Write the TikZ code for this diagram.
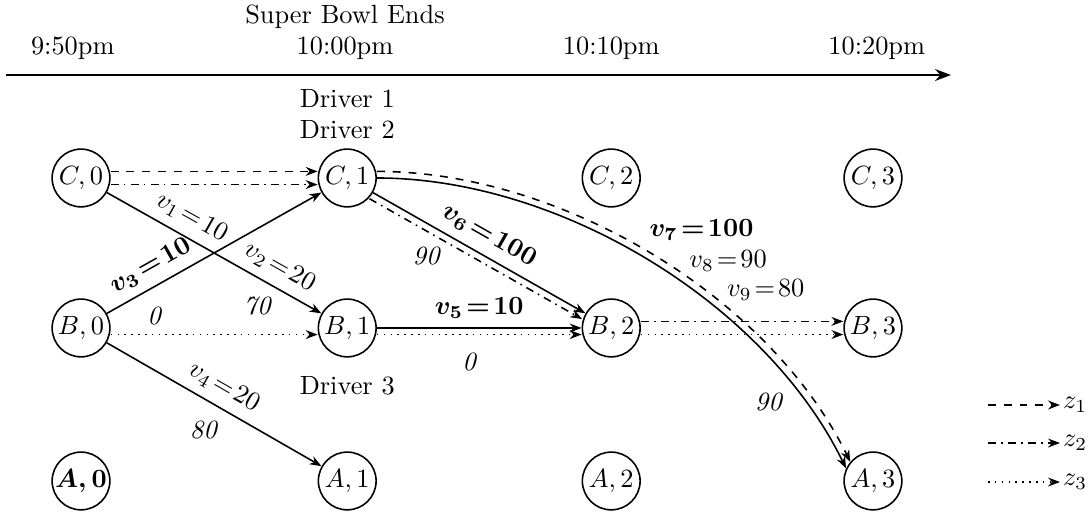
\documentclass[tikz,border=0pt]{standalone}
\usepackage{amsmath,amssymb}
\usetikzlibrary{positioning, arrows.meta}

\begin{document}
\begin{tikzpicture}[
  loc/.style={circle, draw, semithick, minimum size=0.77cm, inner sep=0pt},
  trip/.style={-{Stealth[length=4.5pt]}, semithick},
  sol1/.style={trip, dashed},
  sol2/.style={trip, dashdotted},
  sol3/.style={trip, dotted},
  num/.style={font=\itshape}
]
\useasboundingbox (0,0) rectangle (14.547,-6.92);

% Time axis
\coordinate (ax0) at (0.08,-1.0);
\coordinate (ax1) at (12.68,-1.0);
\draw[thick, -{Stealth[length=6pt]}] (ax0) -- (ax1);
\node (t0) at (0.97,-0.64) {9:50pm};
\node (t1) at (4.60,-0.64) {10:00pm};
\node (t2) at (8.15,-0.64) {10:10pm};
\node (t3) at (11.69,-0.64) {10:20pm};
\node[above=-4pt of t1] (sb) {Super Bowl Ends};

% Locations
\node[loc] (C0) at (1.08,-2.373) {$C,0$};
\node[loc] (C1) at (4.63,-2.373) {$C,1$};
\node[loc] (C2) at (8.15,-2.373) {$C,2$};
\node[loc] (C3) at (11.64,-2.373) {$C,3$};
\node[loc] (B0) at (1.08,-4.373) {$B,0$};
\node[loc] (B1) at (4.63,-4.373) {$B,1$};
\node[loc] (B2) at (8.15,-4.373) {$B,2$};
\node[loc] (B3) at (11.64,-4.373) {$B,3$};
\node[loc] (A0) at (1.08,-6.413) {$\boldsymbol{A,0}$};
\node[loc] (A1) at (4.63,-6.413) {$A,1$};
\node[loc] (A2) at (8.15,-6.413) {$A,2$};
\node[loc] (A3) at (11.64,-6.413) {$A,3$};

% Drivers
\node[above=0pt of C1, align=center] (d12) {Driver 1\\Driver 2};
\node[below=3.5pt of B1] (d3) {Driver 3};

% Trips
\draw[trip] (C0) -- node[pos=.35, sloped, above] {$v_1\!=\!10$}
                    node[pos=.76, sloped, above] {$v_2\!=\!20$}
                    node[num, pos=.7, below=4pt] {70} (B1);
\draw[trip] (B0) -- node[pos=.25, sloped, above] {$\boldsymbol{v_3\!=\!10}$}
                    node[num, pos=.22, below=4pt] {0} (C1);
\draw[trip] (B0) -- node[pos=.5, sloped, above] {$v_4\!=\!20$}
                    node[num, pos=.45, below=5pt] {80} (A1);
\draw[trip] (B1) -- node[pos=.5, above] {$\boldsymbol{v_5\!=\!10}$}
                    node[num, pos=.45, below=6pt] {0} (B2);
\draw[trip] (C1) -- node[pos=.5, sloped, above] {$\boldsymbol{v_6\!=\!100}$}
                    node[num, pos=.25, below=5.5pt] {90} (B2);
\draw[trip] (C1) to[out=0, in=116, looseness=.85]
                    node[pos=.48, above right, yshift=2pt] {$\boldsymbol{v_7\!=\!100}$}
                    node[pos=.56, above right] {$v_8\!=\!90$}
                    node[pos=.64, above right] {$v_9\!=\!80$}
                    node[num, pos=.82, below left] {90} (A3.155);

% Driver routes
\draw[sol1] ([yshift=2.5pt]C0.east) -- ([yshift=2.5pt]C1.west);
\draw[sol2] ([yshift=-2.5pt]C0.east) -- ([yshift=-2.5pt]C1.west);
\draw[sol3] ([yshift=-2.5pt]B0.east) -- ([yshift=-2.5pt]B1.west);
\draw[sol3] ([yshift=-2.5pt]B1.east) -- ([yshift=-2.5pt]B2.west);
\draw[sol2] ([xshift=-1.3pt, yshift=-2.25pt]C1.-30) -- ([xshift=-1.3pt, yshift=-2.25pt]B2.150);
\draw[sol1] ([yshift=2.5pt]C1.east) to[out=0, in=116, looseness=.85] (A3.140);
\draw[sol2] ([yshift=2.5pt]B2.east) -- ([yshift=2.5pt]B3.west);
\draw[sol3] ([yshift=-2.5pt]B2.east) -- ([yshift=-2.5pt]B3.west);

% Legend
\coordinate (s1) at (13.173,-5.40);
\coordinate (s2) at (13.173,-5.907);
\coordinate (s3) at (13.173,-6.427);
\node[right=0.96cm of s1, inner sep=1pt] (z1) {$z_1$};
\node[right=0.96cm of s2, inner sep=1pt] (z2) {$z_2$};
\node[right=0.96cm of s3, inner sep=1pt] (z3) {$z_3$};
\draw[sol1] (s1) -- (z1);
\draw[sol2] (s2) -- (z2);
\draw[sol3] (s3) -- (z3);

\end{tikzpicture}
\end{document}
